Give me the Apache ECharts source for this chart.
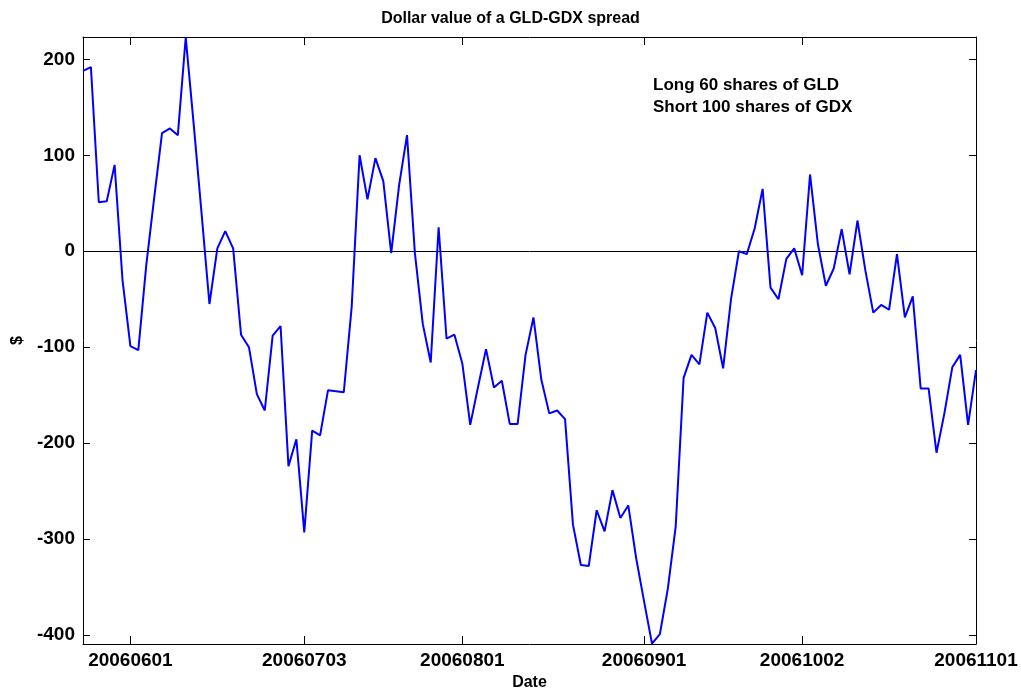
<!DOCTYPE html>
<html>
<head>
<meta charset="utf-8">
<script src="https://cdn.jsdelivr.net/npm/echarts@6/dist/echarts.min.js"></script>
<style>
html,body{margin:0;padding:0;background:#fff;}
#chart{width:1021px;height:691px;}
</style>
</head>
<body>
<div id="chart"></div>
<script>
// Trading dates (categories)
const dates = [
  '20060523','20060524','20060525','20060526','20060530','20060531',
  '20060601','20060602','20060605','20060606','20060607','20060608','20060609','20060612','20060613','20060614','20060615','20060616','20060619','20060620','20060621','20060622','20060623','20060626','20060627','20060628','20060629','20060630',
  '20060703','20060705','20060706','20060707','20060710','20060711','20060712','20060713','20060714','20060717','20060718','20060719','20060720','20060721','20060724','20060725','20060726','20060727','20060728','20060731',
  '20060801','20060802','20060803','20060804','20060807','20060808','20060809','20060810','20060811','20060814','20060815','20060816','20060817','20060818','20060821','20060822','20060823','20060824','20060825','20060828','20060829','20060830','20060831',
  '20060901','20060905','20060906','20060907','20060908','20060911','20060912','20060913','20060914','20060915','20060918','20060919','20060920','20060921','20060922','20060925','20060926','20060927','20060928','20060929',
  '20061002','20061003','20061004','20061005','20061006','20061009','20061010','20061011','20061012','20061013','20061016','20061017','20061018','20061019','20061020','20061023','20061024','20061025','20061026','20061027','20061030','20061031',
  '20061101'
];
// Dollar value of the spread
const spread = [
  188, 192, 51, 52, 90, -30,
  -99, -103, -15, 55, 123, 128, 121, 223, 133, 40, -55, 3, 21, 3, -87, -100, -149, -166, -88, -78, -224, -196,
  -293, -187, -192, -145, -146, -147, -58, 100, 54, 97, 73, -2, 69, 121, -2, -76, -116, 25, -91, -87,
  -117, -181, -141, -102, -142, -135, -180, -180, -108, -69, -134, -169, -166, -175, -285, -327, -328, -270, -292, -249, -278, -265, -320,
  -365, -409, -399, -352, -287, -132, -108, -118, -64, -80, -122, -50, 0, -3, 24, 65, -38, -50, -8, 3,
  -25, 80, 7, -36, -18, 23, -24, 32, -20, -64, -56, -61, -3, -69, -47, -143, -143, -210, -169, -121, -108, -181,
  -124
];
const tickDates = ['20060601','20060703','20060801','20060901','20061002','20061101'];
const yTicks = [-400, -300, -200, -100, 0, 100, 200];
const yMin = -409.4, yMax = 223.3;

const FONT = '"Liberation Sans", Arial, Helvetica, sans-serif';
const showTick = (idx, val) => tickDates.indexOf(val) >= 0;
const axisLineStyle = {color: '#000', width: 1};

const chart = echarts.init(document.getElementById('chart'), null, {renderer: 'canvas'});
chart.setOption({
  animation: false,
  backgroundColor: '#fff',
  title: {
    text: 'Dollar value of a GLD-GDX spread',
    left: 'center',
    top: 6,
    textStyle: {fontFamily: FONT, fontWeight: 'bold', fontSize: 16, color: '#000'}
  },
  grid: {left: 83, right: 45, top: 37, bottom: 47, containLabel: false, outerBoundsMode: 'none'},
  graphic: [{
    type: 'text',
    left: 653,
    top: 74,
    style: {
      text: 'Long 60 shares of GLD\nShort 100 shares of GDX',
      font: 'bold 17px ' + FONT,
      fill: '#000',
      lineHeight: 22
    }
  }],
  xAxis: [{
    type: 'category',
    data: dates,
    boundaryGap: false,
    position: 'bottom',
    name: 'Date',
    nameLocation: 'middle',
    nameGap: 30,
    nameTextStyle: {fontFamily: FONT, fontWeight: 'bold', fontSize: 16, color: '#000'},
    axisLine: {onZero: false, lineStyle: axisLineStyle},
    axisTick: {inside: true, length: 8, interval: showTick, lineStyle: axisLineStyle},
    axisLabel: {interval: showTick, margin: 7, fontFamily: FONT, fontWeight: 'bold', fontSize: 19, color: '#000'},
    splitLine: {show: false}
  }, {
    type: 'category',
    data: dates,
    boundaryGap: false,
    position: 'top',
    axisLine: {onZero: false, lineStyle: axisLineStyle},
    axisTick: {inside: true, length: 8, interval: showTick, lineStyle: axisLineStyle},
    axisLabel: {show: false},
    splitLine: {show: false}
  }],
  yAxis: [{
    type: 'value',
    min: yMin,
    max: yMax,
    position: 'left',
    name: '$',
    nameLocation: 'middle',
    nameGap: 55,
    nameTextStyle: {fontFamily: FONT, fontWeight: 'bold', fontSize: 16, color: '#000'},
    axisLine: {show: true, onZero: false, lineStyle: axisLineStyle},
    axisTick: {show: true, inside: true, length: 7, customValues: yTicks, lineStyle: axisLineStyle},
    axisLabel: {customValues: yTicks, margin: 8, fontFamily: FONT, fontWeight: 'bold', fontSize: 19, color: '#000'},
    splitLine: {show: false}
  }, {
    type: 'value',
    min: yMin,
    max: yMax,
    position: 'right',
    axisLine: {show: true, onZero: false, lineStyle: axisLineStyle},
    axisTick: {show: true, inside: true, length: 7, customValues: yTicks, lineStyle: axisLineStyle},
    axisLabel: {show: false, customValues: yTicks},
    splitLine: {show: false}
  }],
  series: [{
    type: 'line',
    xAxisIndex: 0,
    yAxisIndex: 0,
    data: spread,
    showSymbol: false,
    symbol: 'none',
    lineStyle: {color: '#0000ff', width: 2},
    z: 3,
    markLine: {
      silent: true,
      symbol: ['none', 'none'],
      label: {show: false},
      lineStyle: {color: '#000', width: 1, type: 'solid'},
      data: [{yAxis: 0}],
      z: 2
    }
  }]
});
</script>
</body>
</html>
